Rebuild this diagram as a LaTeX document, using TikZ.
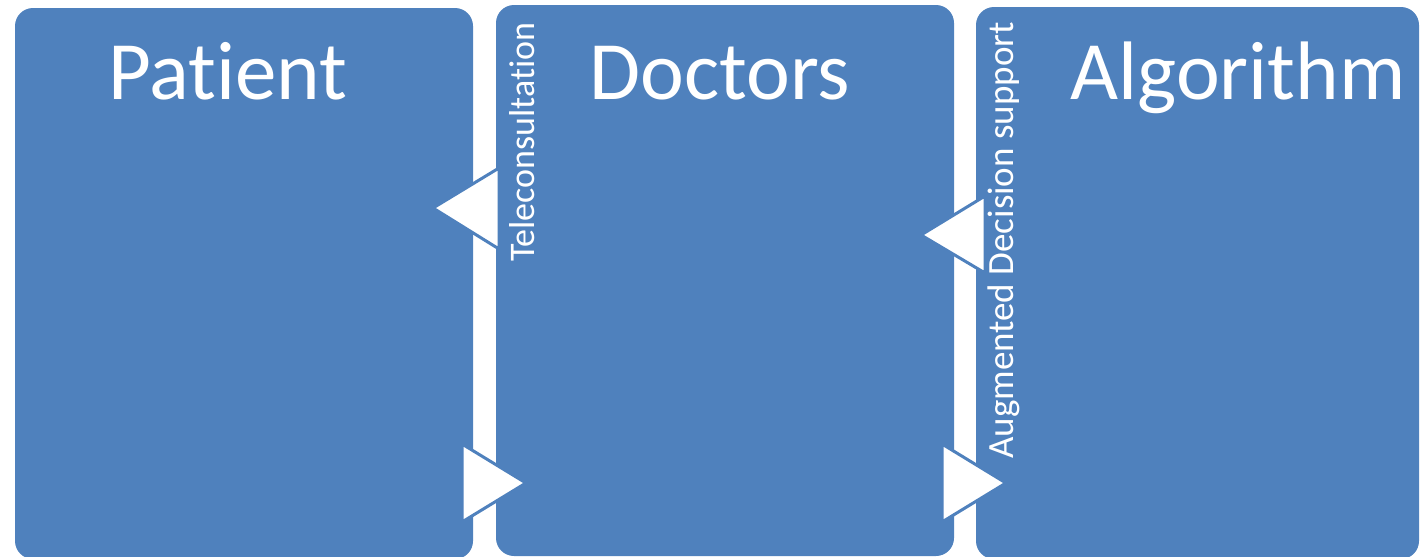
\documentclass[tikz,border=0pt]{standalone}
\usepackage{fontspec}
\setmainfont{Carlito}[Ligatures={NoCommon}]
\definecolor{boxblue}{HTML}{4F81BD}
\tikzset{
  panel/.style={fill=boxblue, draw=none, rounded corners=18pt},
  title/.style={text=white, inner sep=0pt, anchor=base, font=\fontsize{83}{100}\selectfont},
  sidelabel/.style={text=white, inner sep=0pt, anchor=base west, rotate=90},
  flowtip/.style={fill=white, draw=boxblue, line width=3pt, line join=miter}
}
\begin{document}
\begin{tikzpicture}[x=1pt, y=-1pt]
  \useasboundingbox (0,0) rectangle (1422,557);
  \clip (0,0) rectangle (1422,557);

  % three panels
  \fill[panel] (15,8) rectangle (473,559);
  \fill[panel] (496,5) rectangle (954,556);
  \fill[panel] (976,7) rectangle (1419,559);

  % panel titles
  \node[title] (patient) at (228,99) {Patient};
  \node[title] (doctors) at (720,99) {Doctors};
  \node[title] (algo) at (1238,99) {Algorithm};

  % flow tips between the panels
  \draw[flowtip] (433,208) -- (499,168) -- (499,249) -- cycle;
  \draw[flowtip] (462,444) -- (526,483) -- (462,522) -- cycle;
  \draw[flowtip] (921,235) -- (985,196) -- (985,273) -- cycle;
  \draw[flowtip] (942,444) -- (1006,483) -- (942,522) -- cycle;

  % vertical labels of the links
  \node[sidelabel, font=\fontsize{36}{43}\selectfont] (tele) at (534,262) {Teleconsultation};
  \node[sidelabel, font=\fontsize{37}{44}\selectfont] (aug) at (1013,459) {Augmented Decision support};
\end{tikzpicture}
\end{document}
